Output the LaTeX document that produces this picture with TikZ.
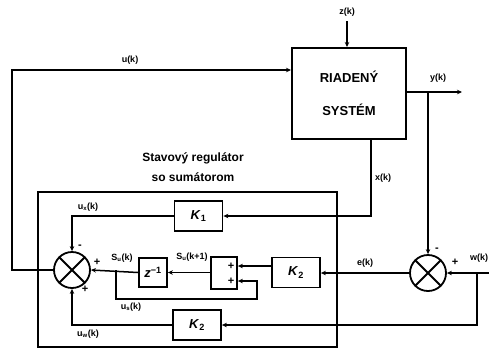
\documentclass[tikz,border=0pt]{standalone}
\usepackage{fontspec}
\setmainfont{Liberation Sans}
\usetikzlibrary{arrows.meta}
\begin{document}
\begin{tikzpicture}[x=1pt,y=-1pt,
  wire/.style={line width=1.5pt},
  arr/.style={wire,-{Stealth[length=5pt,width=4.5pt]}},
  blk/.style={draw,line width=1.8pt,minimum width=48pt,minimum height=30pt,inner sep=0pt,font=\fontsize{13}{13}\selectfont\bfseries},
  sumc/.style={draw,circle,line width=1.8pt,minimum size=36pt,inner sep=0pt},
  lbl/.style={font=\fontsize{9}{9}\selectfont\bfseries,inner sep=0pt},
  sgn/.style={font=\fontsize{11}{11}\selectfont\bfseries,inner sep=0pt},
  ttl/.style={font=\fontsize{12}{12}\selectfont\bfseries,inner sep=0pt}]
\useasboundingbox (0,0) rectangle (489,349);
% regulator frame
\node[draw,line width=2.2pt,minimum width=299pt,minimum height=155pt,inner sep=0pt] (reg) at (187.5,269.5) {};
\node[ttl] (t1) at (193,158) {Stavový regulátor};
\node[ttl] (t2) at (193,177) {so sumátorom};
% plant
\node[draw,line width=2pt,minimum width=114pt,minimum height=91pt,align=center,inner sep=0pt,font=\fontsize{13}{33}\selectfont\bfseries] (plant) at (349,93.5) {RIADENÝ\\SYSTÉM};
% blocks
\node[blk] (K1) at (198.5,216) {\textit{K}\textsubscript{1}};
\node[blk,minimum width=28pt,minimum height=29pt] (zi) at (153,272.5) {\textit{z}\textsuperscript{−1}};
\node[draw,line width=1.8pt,minimum width=26pt,minimum height=32pt,inner sep=0pt] (sb) at (224,273) {};
\node[blk] (K2m) at (296,272.5) {\textit{K}\textsubscript{2}};
\node[blk] (K2b) at (197,325) {\textit{K}\textsubscript{2}};
% summing junctions
\node[sumc] (s1) at (72,270) {};
\draw[line width=1.8pt] (s1.north west) -- (s1.south east) (s1.north east) -- (s1.south west);
\node[sumc] (s2) at (428,273) {};
\draw[line width=1.8pt] (s2.north west) -- (s2.south east) (s2.north east) -- (s2.south west);
% coordinates
\coordinate (zt) at (347,21);
\coordinate (uc) at (12,270);
\coordinate (yend) at (462,92);
\coordinate (yb) at (428,92);
\coordinate (xc) at (371,216);
\coordinate (k1c) at (72,216);
\coordinate (br) at (116,270);
\coordinate (fb1) at (116,299);
\coordinate (fb2) at (257,299);
\coordinate (fb3) at (257,281);
\coordinate (win) at (489,273);
\coordinate (wb) at (477,273);
\coordinate (wb2) at (477,325);
\coordinate (k2c) at (72,325);
% wires
\draw[arr] (zt) -- (zt |- plant.north);
\draw[arr] (s1.west) -- (uc) |- (plant.west |- 0,70);
\draw[arr] (plant.east |- yend) -- (yend);
\draw[arr] (yb) -- (s2.north);
\draw[arr] (plant.south -| xc) -- (xc) -- (K1.east);
\draw[arr] (K1.west) -- (k1c) -- (s1.north);
\draw[arr] (s2.west) -- (K2m.east |- s2.west);
\draw[arr] (K2m.west |- 0,266) -- (sb.east |- 0,266);
\draw[arr] (sb.west |- zi.east) -- (zi.east);
\draw[arr] (zi.west) -- (s1.east);
\draw[arr] (br) -- (fb1) -- (fb2) -- (fb3) -- (sb.east |- fb3);
\draw[arr] (win) -- (s2.east);
\draw[arr] (wb) -- (wb2) -- (K2b.east);
\draw[arr] (K2b.west) -- (k2c) -- (s1.south);
% signs
\node[sgn] (m1) at (80,247) {-};
\node[sgn] (p1) at (97,262) {+};
\node[sgn] (p2) at (85,289) {+};
\node[sgn] (m2) at (437,250) {-};
\node[sgn] (p3) at (455,262) {+};
\node[sgn] (p4) at (231,266) {+};
\node[sgn] (p5) at (231,281) {+};
% labels
\node[lbl] (lz) at (347,12) {z(k)};
\node[lbl] (lu) at (130,60) {u(k)};
\node[lbl] (ly) at (438,78) {y(k)};
\node[lbl] (lx) at (383,178) {x(k)};
\node[lbl] (lux) at (88,207) {u\textsubscript{x}(k)};
\node[lbl] (lsu) at (122,258) {S\textsubscript{u}(k)};
\node[lbl] (lsu1) at (192,257) {S\textsubscript{u}(k+1)};
\node[lbl] (lus) at (131,307) {u\textsubscript{s}(k)};
\node[lbl] (luw) at (88,334) {u\textsubscript{w}(k)};
\node[lbl] (le) at (365,263) {e(k)};
\node[lbl,anchor=west] (lw) at (470,258) {w(k)};
\end{tikzpicture}
\end{document}
